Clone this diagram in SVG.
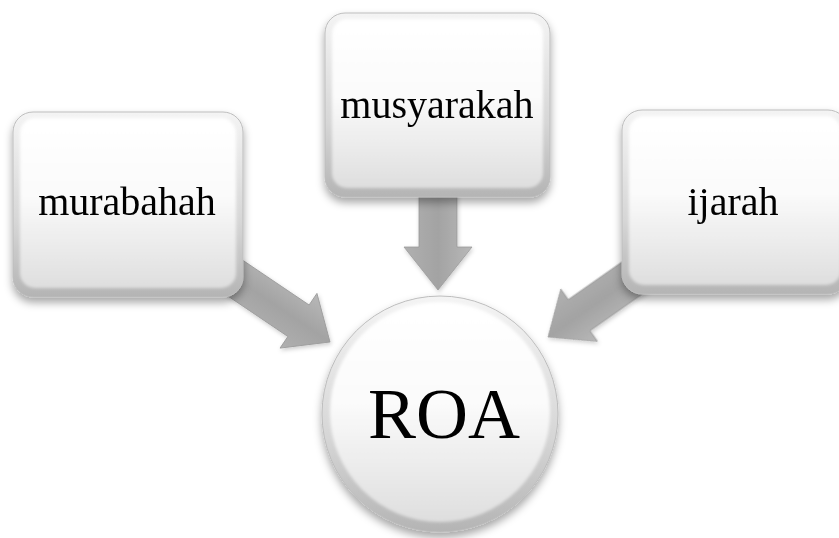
<svg xmlns="http://www.w3.org/2000/svg" width="839" height="538" viewBox="0 0 839 538">
<defs>
<linearGradient id="edge" x1="0" y1="0" x2="0" y2="1">
<stop offset="0" stop-color="#f4f4f4"/><stop offset="0.6" stop-color="#d6d6d6"/><stop offset="1" stop-color="#b4b4b4"/>
</linearGradient>
<linearGradient id="face" x1="0" y1="0" x2="0" y2="1">
<stop offset="0" stop-color="#ffffff"/><stop offset="0.45" stop-color="#fbfbfb"/><stop offset="1" stop-color="#dedede"/>
</linearGradient>
<linearGradient id="arr" x1="0" y1="0" x2="0" y2="1">
<stop offset="0" stop-color="#b8b8b8"/><stop offset="0.5" stop-color="#a3a3a3"/><stop offset="1" stop-color="#b0b0b0"/>
</linearGradient>
<filter id="sh" x="-20%" y="-20%" width="140%" height="150%">
<feDropShadow dx="0" dy="5" stdDeviation="4" flood-color="#000" flood-opacity="0.35"/>
</filter>
<filter id="ash" x="-20%" y="-40%" width="140%" height="180%">
<feDropShadow dx="1" dy="2" stdDeviation="2" flood-color="#000" flood-opacity="0.2"/>
</filter>
<filter id="soft"><feGaussianBlur stdDeviation="1.5"/></filter>
</defs>
<style>
.lbl{fill:#000;text-anchor:middle;font-family:'Liberation Serif','Times New Roman',serif}
.arrow{fill:url(#arr);stroke:#9a9a9a;stroke-width:0.8}
.outer{fill:url(#edge);stroke:#bdbdbd;stroke-width:1}
.inner{fill:url(#face);filter:url(#soft)}
</style>
<g id="connectors" filter="url(#ash)">
<path class="arrow" transform="translate(330,342) rotate(34)" d="M0,0 L-38,-33 L-38,-19 L-140,-19 L-140,19 L-38,19 L-38,33 Z"/>
<path class="arrow" transform="translate(438,290) rotate(90)" d="M0,0 L-43,-34 L-43,-19 L-100,-19 L-100,19 L-43,19 L-43,34 Z"/>
<path class="arrow" transform="translate(548,337) rotate(145)" d="M0,0 L-38,-32 L-38,-19 L-140,-19 L-140,19 L-38,19 L-38,32 Z"/>
</g>
<g id="node-murabahah">
<g filter="url(#sh)">
<rect class="outer" x="13" y="112" width="230" height="185" rx="20"/>
<rect class="inner" x="20" y="118" width="216" height="170" rx="15"/>
</g>
<text class="lbl" x="127" y="215" font-size="40">murabahah</text>
</g>
<g id="node-musyarakah">
<g filter="url(#sh)">
<rect class="outer" x="325" y="13" width="225" height="184" rx="20"/>
<rect class="inner" x="332" y="19" width="211" height="169" rx="15"/>
</g>
<text class="lbl" x="437" y="118" font-size="40">musyarakah</text>
</g>
<g id="node-ijarah">
<g filter="url(#sh)">
<rect class="outer" x="622" y="110" width="226" height="184" rx="20"/>
<rect class="inner" x="629" y="116" width="212" height="169" rx="15"/>
</g>
<text class="lbl" x="733" y="215" font-size="40">ijarah</text>
</g>
<g id="node-roa">
<g filter="url(#sh)">
<circle class="outer" cx="440" cy="414" r="118"/>
<circle class="inner" cx="440" cy="412" r="110"/>
</g>
<text class="lbl" x="444" y="438" font-size="72">ROA</text>
</g>
</svg>
